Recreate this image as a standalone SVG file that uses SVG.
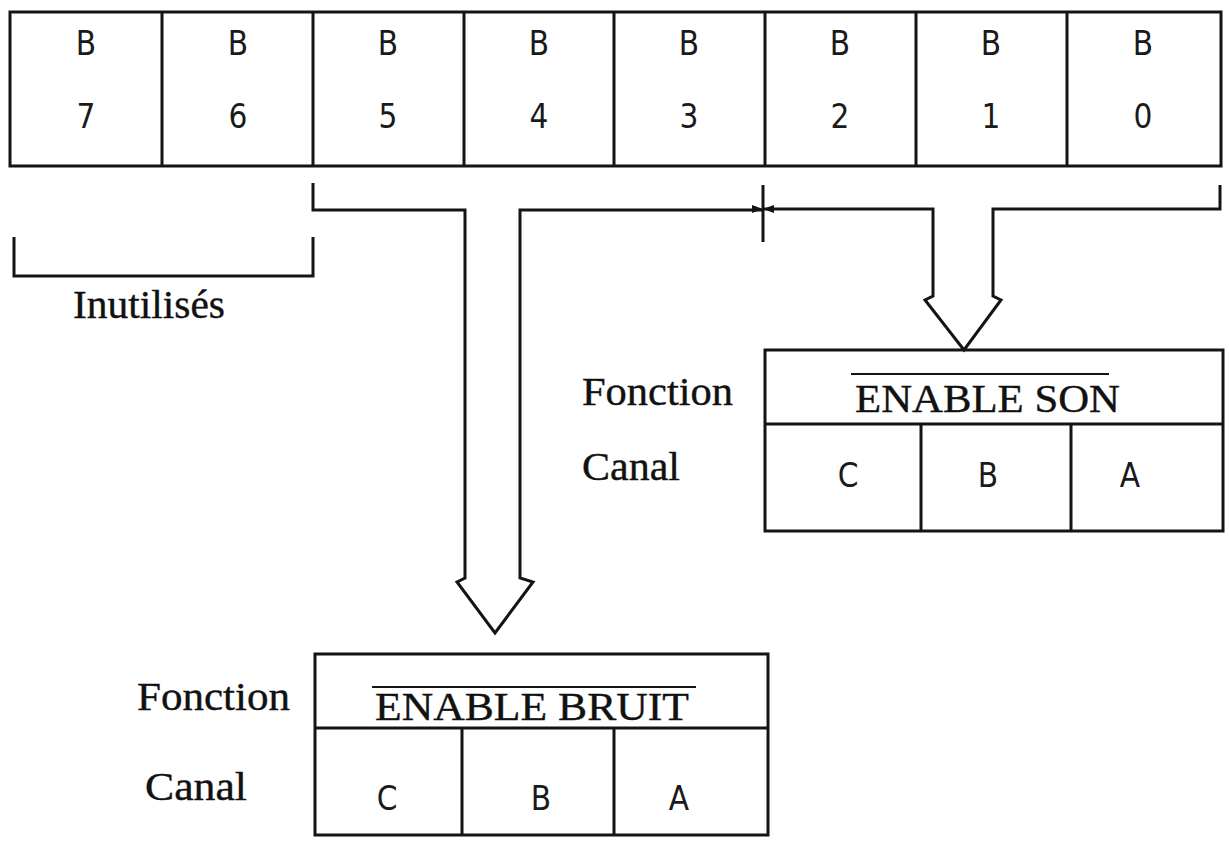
<svg xmlns="http://www.w3.org/2000/svg" width="1229" height="843" viewBox="0 0 1229 843">
<style>
.ln{fill:none;stroke:#141414;stroke-width:3;stroke-linejoin:miter}
.mono{font-family:"DejaVu Sans Condensed","DejaVu Sans",sans-serif;font-stretch:condensed;font-size:33px;fill:#1a1a1a;text-anchor:middle}
.serif{font-family:"Liberation Serif","Times New Roman",serif;font-size:41px;fill:#111;stroke:#111;stroke-width:0.4}
.ov{fill:none;stroke:#141414;stroke-width:2}
</style>
<rect width="1229" height="843" fill="#ffffff"/>
<g id="register">
<rect class="ln" x="10" y="12" width="1211" height="154"/>
<path class="ln" d="M162,12V166M313,12V166M464,12V166M614,12V166M765,12V166M916,12V166M1067,12V166"/>
<g class="mono">
<text x="86" y="55">B</text><text x="86" y="128">7</text>
<text x="238" y="55">B</text><text x="238" y="128">6</text>
<text x="388" y="55">B</text><text x="388" y="128">5</text>
<text x="539" y="55">B</text><text x="539" y="128">4</text>
<text x="689" y="55">B</text><text x="689" y="128">3</text>
<text x="840" y="55">B</text><text x="840" y="128">2</text>
<text x="991" y="55">B</text><text x="991" y="128">1</text>
<text x="1143" y="55">B</text><text x="1143" y="128">0</text>
</g>
</g>
<g id="inutilises">
<path class="ln" d="M14,237V276H313V237"/>
<text class="serif" x="73" y="318" textLength="152" lengthAdjust="spacingAndGlyphs">Inutilisés</text>
</g>
<g id="connectors">
<path class="ln" d="M313,183V210H465V578L457,582L495,633L533,582L520,578V210H763"/>
<path class="ln" d="M763,209H933V296L925,300L964,350L1001,300L993,296V209H1220V185"/>
<path class="ln" d="M763,185V242"/>
<path d="M752,205L763,209L752,213ZM774,205L763,209L774,213Z" fill="#141414"/>
</g>
<g id="enable-son">
<rect class="ln" x="765" y="350" width="458" height="181"/>
<path class="ln" d="M765,424H1223M921,424V531M1071,424V531"/>
<path class="ov" d="M851,374H1109"/>
<text class="serif" x="855" y="412" textLength="265" lengthAdjust="spacingAndGlyphs">ENABLE SON</text>
<g class="mono">
<text x="848" y="487">C</text><text x="988" y="487">B</text><text x="1130" y="487">A</text>
</g>
<text class="serif" x="582" y="405" textLength="151" lengthAdjust="spacingAndGlyphs">Fonction</text>
<text class="serif" x="582" y="480" textLength="98" lengthAdjust="spacingAndGlyphs">Canal</text>
</g>
<g id="enable-bruit">
<rect class="ln" x="315" y="654" width="453" height="181"/>
<path class="ln" d="M315,728H768M462,728V835M614,728V835"/>
<path class="ov" d="M372,687H696"/>
<text class="serif" x="375" y="720" textLength="314" lengthAdjust="spacingAndGlyphs">ENABLE BRUIT</text>
<g class="mono">
<text x="387" y="810">C</text><text x="541" y="810">B</text><text x="679" y="810">A</text>
</g>
<text class="serif" x="137" y="710" textLength="153" lengthAdjust="spacingAndGlyphs">Fonction</text>
<text class="serif" x="145" y="800" textLength="102" lengthAdjust="spacingAndGlyphs">Canal</text>
</g>
</svg>
